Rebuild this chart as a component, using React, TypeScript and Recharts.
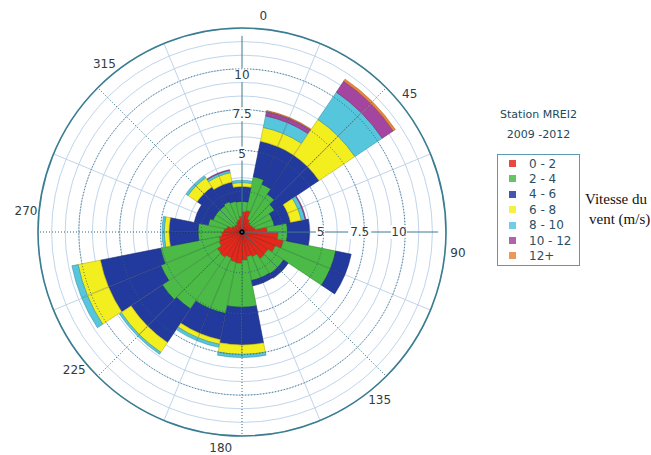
import React from "react";
import {
  RadialBarChart,
  RadialBar,
  PolarAngleAxis,
  PolarRadiusAxis,
  PolarGrid,
  Sector,
} from "recharts";

// 32 direction bins of 11.25 deg, labelled by their starting bearing
const binStarts = Array.from({ length: 32 }, (_, i) => String(i * 11.25));

// segment length (m/s scale of the rose) of each speed class, per bin
const speed0to2 = [1.3, 1.4, 0.9, 0.75, 0.7, 0.75, 0.85, 1.6, 2.3, 2.7, 2.3, 2.0, 2.05, 1.7, 1.6, 1.8, 2.0, 1.95, 1.8, 1.95, 1.9, 1.6, 1.5, 1.3, 1.15, 1.0, 0.7, 0.6, 0.6, 0.7, 0.8, 1.0];
const speed2to4 = [0.65, 2.2, 2.4, 2.15, 1.8, 1.35, 1.25, 1.3, 0.6, 3.4, 3.8, 1.2, 1.15, 1.45, 1.55, 3.0, 2.8, 3.35, 3.5, 3.95, 4.2, 4.0, 3.8, 1.5, 1.65, 1.2, 1.3, 1.4, 1.4, 1.4, 1.2, 0.95];
const speed4to6 = [0.95, 2.3, 2.6, 3.0, 3.4, 1.05, 1.05, 1.4, 1.4, 1.0, 1.0, 0.35, 0.35, 0.35, 0.35, 2.4, 2.4, 1.7, 1.7, 2.6, 2.4, 3.6, 3.9, 1.85, 1.85, 0.9, 1.1, 1.45, 1.45, 1.15, 1.25, 0.95];
const speed6to8 = [0.25, 0.9, 0.9, 2.75, 2.75, 0.7, 0.7, 0, 0, 0, 0, 0, 0, 0, 0, 0.6, 0.6, 0.3, 0.3, 0.75, 0.75, 1.45, 1.45, 0.3, 0.3, 0, 0, 0.7, 0.7, 0.6, 0.6, 0.25];
const speed8to10 = [0.15, 0.75, 0.75, 2.1, 2.1, 0.25, 0.25, 0, 0, 0, 0, 0, 0, 0, 0, 0.2, 0.2, 0.2, 0.2, 0.15, 0.15, 0.4, 0.4, 0.15, 0.15, 0, 0, 0.15, 0.15, 0.15, 0.15, 0.15];
const speed10to12 = [0, 0.3, 0.3, 0.85, 0.85, 0.05, 0.05, 0, 0, 0, 0, 0, 0, 0, 0, 0, 0, 0, 0, 0, 0, 0, 0, 0, 0, 0, 0, 0, 0, 0.05, 0.05, 0];
const speed12plus = [0, 0.05, 0.05, 0.15, 0.15, 0, 0, 0, 0, 0, 0, 0, 0, 0, 0, 0, 0, 0, 0, 0, 0, 0, 0, 0, 0, 0, 0, 0, 0, 0, 0, 0];

const speedLabels = ["0 - 2", "2 - 4", "4 - 6", "6 - 8", "8 - 10", "10 - 12", "12+"];
const compassLabels = ["0", "45", "90", "135", "180", "225", "270", "315"];
const radiusTicks = [0, 5, 7.5, 10, 12.5];
const stationTitle = "Station MREI2";
const periodLabel = "2009 -2012";

const series = [speed0to2, speed2to4, speed4to6, speed6to8, speed8to10, speed10to12, speed12plus];
const FILLS = ["#e4281b", "#4cba47", "#22399d", "#f3ef1f", "#56c6dc", "#a4459f", "#e8873c"];
const STROKES = ["#a41c12", "#2f8c2f", "#17286f", "#b5ad12", "#3793a7", "#74306f", "#b05f22"];

const rows = binStarts.map((dir, i) => {
  const row: Record<string, any> = { dir };
  series.forEach((s, k) => (row["s" + k] = s[i]));
  return row;
});

const CX = 242;
const CY = 232;
const R = 204;
const RMAX = 12.5;
const PX = R / RMAX;
const HALF_BIN = 360 / binStarts.length / 2;
const LABEL_R = 217;
const toAngle = (b: number) => 90 - b;

const fineRings = Array.from({ length: 15 }, (_, i) => ((i + 1) * 2.5 * PX) / 3);
const dottedRings = [2.5, 5, 7.5, 10].map((v) => v * PX);
const fineSpokes = [22.5, 67.5, 112.5, 157.5, 202.5, 247.5, 292.5, 337.5].map(toAngle);
const dottedSpokes = [45, 135, 180, 225, 270, 315].map(toAngle);

const Wedge = (p: any) => {
  if (p.outerRadius - p.innerRadius < 0.3) return <g />;
  return (
    <Sector
      cx={p.cx}
      cy={p.cy}
      innerRadius={p.innerRadius}
      outerRadius={p.outerRadius}
      startAngle={p.startAngle}
      endAngle={p.endAngle}
      fill={p.fill}
      stroke={p.stroke}
      strokeWidth={0.6}
    />
  );
};

const Empty = () => <g />;

// compass labels sit on the leading edge of the bins that start at 0, 45, 90...
const CompassTick = (p: any) => {
  const v = String(p.payload.value);
  if (!compassLabels.includes(v)) return <g />;
  const ang = ((p.payload.coordinate + HALF_BIN) * Math.PI) / 180;
  const x = CX + LABEL_R * Math.cos(ang);
  const y = CY - LABEL_R * Math.sin(ang);
  return (
    <text x={x} y={y} textAnchor="middle" dominantBaseline="central" fontSize={12} fill="#2f3c44">
      {v}
    </text>
  );
};

const RadiusTick = (p: any) => {
  const v = p.payload.value;
  if (v === 12.5) return <g />;
  if (v === 0) return <circle cx={p.x} cy={p.y} r={2.5} fill="#000" />;
  const label = String(v);
  const w = label.length * 7 + 2;
  return (
    <g>
      <rect x={p.x - w / 2} y={p.y - 7} width={w} height={14} fill="#fff" />
      <text x={p.x} y={p.y} textAnchor="middle" dominantBaseline="central" fontSize={12} fill="#2f3c44">
        {label}
      </text>
    </g>
  );
};

export default function App() {
  return (
    <div style={{ position: "absolute", left: 0, top: 0, width: 651, height: 455, background: "#fff", fontFamily: "DejaVu Sans" }}>
      <RadialBarChart
        width={490}
        height={455}
        cx={CX}
        cy={CY}
        innerRadius={0}
        outerRadius={R}
        startAngle={90 - 2 * HALF_BIN}
        endAngle={-270 - 2 * HALF_BIN}
        layout="centric"
        data={rows}
        barCategoryGap={0}
        barGap={0}
        margin={{ top: 0, right: 0, bottom: 0, left: 0 }}
        style={{ position: "absolute", left: 0, top: 0, fontFamily: "DejaVu Sans" }}
      >
        <PolarGrid gridType="circle" polarRadius={fineRings} polarAngles={fineSpokes} stroke="#b8cfe9" strokeWidth={0.9} />
        <PolarAngleAxis
          type="category"
          dataKey="dir"
          scale="band"
          tickLine={false}
          tickSize={0}
          axisLineType="circle"
          axisLine={{ stroke: "#3a7d90", strokeWidth: 1.6 }}
          tick={CompassTick}
        />
        <PolarAngleAxis angleAxisId="aux" type="category" dataKey="dir" scale="band" tick={false} tickLine={false} axisLine={false} />
        {series.map((_, k) => (
          <RadialBar
            key={k}
            dataKey={"s" + k}
            stackId="rose"
            fill={FILLS[k]}
            stroke={STROKES[k]}
            shape={Wedge}
            isAnimationActive={false}
          />
        ))}
        <RadialBar angleAxisId="aux" radiusAxisId="east" dataKey="s0" shape={Empty} isAnimationActive={false} />
        <PolarGrid
          gridType="circle"
          polarRadius={dottedRings}
          polarAngles={dottedSpokes}
          stroke="#2d6679"
          strokeWidth={1}
          strokeDasharray="1 2"
          zIndex={600}
        />
        <PolarRadiusAxis
          type="number"
          domain={[0, RMAX]}
          angle={90}
          ticks={radiusTicks}
          tickLine={false}
          axisLine={{ stroke: "#3a7d90", strokeWidth: 1 }}
          tick={RadiusTick}
        />
        <PolarRadiusAxis
          radiusAxisId="east"
          type="number"
          domain={[0, RMAX]}
          angle={0}
          ticks={radiusTicks}
          tickLine={false}
          axisLine={{ stroke: "#3a7d90", strokeWidth: 1 }}
          tick={RadiusTick}
        />
      </RadialBarChart>

      <div style={{ position: "absolute", left: 497, top: 108, width: 83, textAlign: "center", fontSize: 11, color: "#22495a", lineHeight: "14px" }}>
        {stationTitle}
      </div>
      <div style={{ position: "absolute", left: 497, top: 128, width: 83, textAlign: "center", fontSize: 11, color: "#22495a", lineHeight: "14px" }}>
        {periodLabel}
      </div>
      <div style={{ position: "absolute", left: 497, top: 154, width: 83, height: 112, border: "1px solid #5a9aae", boxSizing: "border-box" }}>
        {speedLabels.map((lab, i) => (
          <div key={lab} style={{ position: "absolute", left: 11, top: 1 + i * 15.4, height: 15, display: "flex", alignItems: "center" }}>
            <span style={{ width: 7, height: 7, background: FILLS[i], opacity: 0.85, display: "inline-block" }} />
            <span style={{ marginLeft: 13, fontSize: 12, color: "#2a4f63" }}>{lab}</span>
          </div>
        ))}
      </div>
      <div style={{ position: "absolute", left: 585, top: 189, fontFamily: "Liberation Serif", fontSize: 15, lineHeight: "20px", color: "#111" }}>
        Vitesse du
        <br />
        <span style={{ marginLeft: 4 }}>vent (m/s)</span>
      </div>
    </div>
  );
}
